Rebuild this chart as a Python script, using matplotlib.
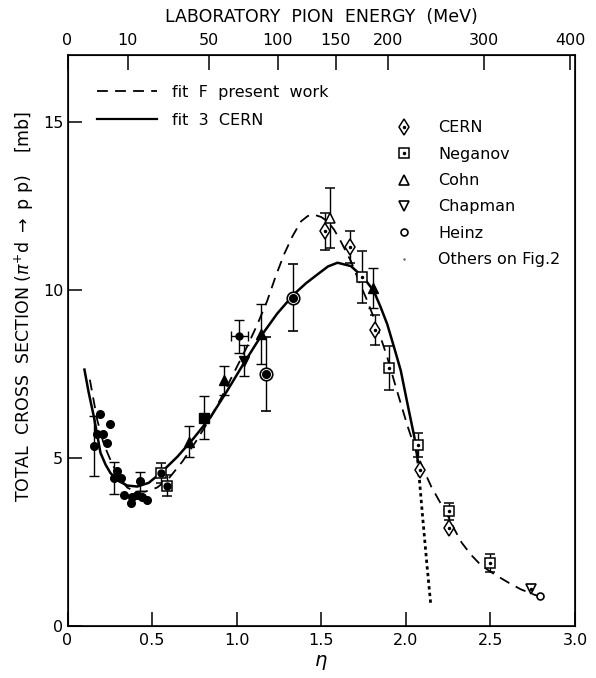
import numpy as np
import matplotlib
matplotlib.use("Agg")
import matplotlib.pyplot as plt
from matplotlib.lines import Line2D

# --- curves (eta, sigma in mb) ---
fit3_eta = [0.10, 0.125, 0.156, 0.195, 0.225, 0.254, 0.30, 0.353, 0.412, 0.48, 0.55,
            0.65, 0.746, 0.846, 0.945, 1.04, 1.14, 1.24, 1.34, 1.41, 1.477, 1.54,
            1.596, 1.675, 1.75, 1.81, 1.85, 1.89, 1.93, 1.97, 2.01, 2.05, 2.07]
fit3_sig = [7.63, 6.95, 6.22, 5.15, 4.80, 4.55, 4.32, 4.18, 4.15, 4.26, 4.55,
            5.04, 5.59, 6.22, 7.01, 7.80, 8.60, 9.30, 9.88, 10.20, 10.46, 10.70,
            10.81, 10.71, 10.37, 9.97, 9.50, 8.98, 8.30, 7.60, 6.60, 5.63, 4.94]
fit3_tail_eta = [2.07, 2.10, 2.125, 2.148]
fit3_tail_sig = [4.94, 3.20, 1.80, 0.60]

fitF_eta = [0.132, 0.176, 0.215, 0.254, 0.30, 0.353, 0.40, 0.46, 0.53, 0.60, 0.68,
            0.76, 0.84, 0.92, 1.00, 1.06, 1.12, 1.18, 1.23, 1.28, 1.33, 1.38, 1.42,
            1.457, 1.50, 1.537, 1.575, 1.615, 1.675, 1.73, 1.77, 1.81, 1.85, 1.89,
            1.93, 1.97, 2.01, 2.05, 2.10, 2.15, 2.20, 2.25, 2.29, 2.33, 2.385, 2.44,
            2.49, 2.54, 2.61, 2.68, 2.76, 2.84]
fitF_sig = [7.33, 6.12, 5.40, 4.94, 4.45, 4.12, 4.00, 4.00, 4.12, 4.40, 4.90,
            5.50, 6.15, 6.90, 7.70, 8.30, 8.95, 9.67, 10.40, 11.06, 11.60, 12.04, 12.20,
            12.24, 12.17, 12.04, 11.80, 11.45, 10.86, 10.17, 9.70, 9.18, 8.60, 8.00,
            7.30, 6.62, 5.95, 5.35, 4.70, 4.15, 3.70, 3.26, 2.85, 2.48, 2.12, 1.83,
            1.65, 1.49, 1.28, 1.09, 0.93, 0.80]

# --- data points ---
dots_eta = [0.19, 0.25, 0.176, 0.211, 0.235, 0.294, 0.314, 0.333, 0.373, 0.383, 0.412, 0.442, 0.467]
dots_sig = [6.32, 6.00, 5.70, 5.70, 5.45, 4.60, 4.40, 3.90, 3.66, 3.85, 3.90, 3.85, 3.74]
dots_err_eta = [0.156, 0.274, 0.428]
dots_err_sig = [5.35, 4.40, 4.30]
dots_err = [0.90, 0.47, 0.28]
dot_xbar_eta = [1.014]
dot_xbar_sig = [8.62]
dot_xbar_yerr = [0.50]
dot_xbar_xerr = [0.05]

ring_eta = [1.171, 1.33]
ring_sig = [7.50, 9.77]
ring_err = [1.10, 1.00]

ftri_eta = [0.718, 0.925, 1.142, 1.803]
ftri_sig = [5.48, 7.31, 8.69, 10.05]
ftri_err = [0.46, 0.44, 0.89, 0.59]
fsq_eta = [0.807]
fsq_sig = [6.20]
fsq_err = [0.65]
finv_eta = [1.043]
finv_sig = [7.90]
finv_err = [0.45]

cohn_eta = [1.552]
cohn_sig = [12.14]
cohn_err = [0.88]

cern_eta = [1.523, 1.67, 1.817, 2.085, 2.253]
cern_sig = [11.75, 11.27, 8.81, 4.65, 2.92]
cern_err = [0.55, 0.47, 0.45, 0.0, 0.0]

neg_eta = [0.55, 0.586, 1.74, 1.90, 2.069, 2.256, 2.50]
neg_sig = [4.55, 4.18, 10.38, 7.67, 5.38, 3.41, 1.88]
neg_err = [0.30, 0.30, 0.78, 0.66, 0.36, 0.26, 0.26]

chap_eta = [2.74]
chap_sig = [1.09]
heinz_eta = [2.795]
heinz_sig = [0.88]

energy_ticks = [0, 10, 50, 100, 150, 200, 300, 400]


def eta_from_T(T):
    # pion CM momentum in units of m_pi for pi+ d at lab kinetic energy T (MeV)
    mpi, md = 139.57, 1875.61
    T = np.asarray(T, dtype=float)
    s = (mpi + md) ** 2 + 2 * md * T
    p = np.sqrt((s - (mpi + md) ** 2) * (s - (md - mpi) ** 2)) / (2 * np.sqrt(s))
    return p / mpi


plt.rcParams['font.family'] = ['DejaVu Sans']
fig = plt.figure(figsize=(5.96, 6.78), dpi=100)
ax = fig.add_axes([0.1133, 0.0767, 0.8515, 0.8426])

ax.plot(fitF_eta, fitF_sig, color='k', lw=1.3, dashes=(6, 4))
ax.plot(fit3_eta, fit3_sig, color='k', lw=1.8)
ax.plot(fit3_tail_eta, fit3_tail_sig, color='k', lw=2.0, dashes=(1.2, 1.2))

eb = dict(ecolor='k', elinewidth=1.0, capsize=3.5, capthick=1.0, ls='none', zorder=3)

ax.plot(dots_eta, dots_sig, 'o', color='k', ms=5.5, zorder=4)
ax.errorbar(dots_err_eta, dots_err_sig, yerr=dots_err, fmt='o', color='k', ms=5.5, **eb)
ax.errorbar(dot_xbar_eta, dot_xbar_sig, yerr=dot_xbar_yerr, xerr=dot_xbar_xerr,
            fmt='o', color='k', ms=5, **eb)

ax.errorbar(ring_eta, ring_sig, yerr=ring_err, fmt='o', ms=9, mfc='white', mec='k', mew=1.2, **eb)
ax.plot(ring_eta, ring_sig, 'o', color='k', ms=5.5, zorder=5)

ax.errorbar(ftri_eta, ftri_sig, yerr=ftri_err, fmt='^', color='k', ms=7, **eb)
ax.errorbar(fsq_eta, fsq_sig, yerr=fsq_err, fmt='s', color='k', ms=6.5, **eb)
ax.errorbar(finv_eta, finv_sig, yerr=finv_err, fmt='v', color='k', ms=7, **eb)

ax.errorbar(cohn_eta, cohn_sig, yerr=cohn_err, fmt='^', ms=7, mfc='white', mec='k', mew=1.1, **eb)

ax.errorbar(cern_eta, cern_sig, yerr=cern_err, fmt='d', ms=8.5, mfc='white', mec='k', mew=1.1, **eb)
ax.plot(cern_eta, cern_sig, '.', color='k', ms=3, zorder=5)

ax.errorbar(neg_eta, neg_sig, yerr=neg_err, fmt='s', ms=7, mfc='white', mec='k', mew=1.1, **eb)
ax.plot(neg_eta[2:], neg_sig[2:], '.', color='k', ms=3, zorder=5)
ax.plot(neg_eta[:2], neg_sig[:2], 'o', color='k', ms=5, zorder=5)

ax.plot(chap_eta, chap_sig, 'v', ms=7, mfc='white', mec='k', mew=1.2, zorder=4)
ax.plot(chap_eta, chap_sig, '.', color='k', ms=3, zorder=5)
ax.plot(heinz_eta, heinz_sig, 'o', ms=5, mfc='white', mec='k', mew=1.2, zorder=4)

ax.set_xlim(0, 3.0)
ax.set_ylim(0, 17)
ax.set_xticks([0, 0.5, 1.0, 1.5, 2.0, 2.5, 3.0])
ax.set_xticklabels(['0', '0.5', '1.0', '1.5', '2.0', '2.5', '3.0'])
ax.set_yticks([0, 5, 10, 15])
ax.tick_params(axis='both', direction='in', length=10, width=1.1, labelsize=11.5, pad=5)
ax.tick_params(axis='y', pad=3)
ax.set_xlabel(r'$\eta$', fontsize=14, labelpad=4)
ax.set_ylabel(r'TOTAL  CROSS  SECTION ($\pi^{+}$d $\rightarrow$ p p)    [mb]', fontsize=12.5)
ax.yaxis.set_label_coords(-0.062, 0.56)
for sp in ax.spines.values():
    sp.set_linewidth(1.2)

top = ax.twiny()
top.set_xlim(ax.get_xlim())
top.set_xticks(eta_from_T(energy_ticks))
top.set_xticklabels([str(t) for t in energy_ticks])
top.tick_params(axis='x', direction='in', length=11, width=1.1, labelsize=11.5, pad=5)
top.set_xlabel('LABORATORY  PION  ENERGY  (MeV)', fontsize=12.5, labelpad=8)

line_handles = [Line2D([], [], color='k', lw=1.3, dashes=(6, 4)),
                Line2D([], [], color='k', lw=1.6)]
leg1 = ax.legend(line_handles, ['fit  F  present  work', 'fit  3  CERN'],
                 loc='upper left', bbox_to_anchor=(0.058, 0.947), frameon=False,
                 fontsize=11.5, handlelength=3.75, handletextpad=0.94, labelspacing=0.8,
                 borderpad=0, borderaxespad=0)
ax.add_artist(leg1)

dia = Line2D([], [], marker='d', ls='none', ms=8.5, mfc='white', mec='k', mew=1.1)
dia_dot = Line2D([], [], marker='.', ls='none', ms=3, color='k')
sq = Line2D([], [], marker='s', ls='none', ms=6.5, mfc='white', mec='k', mew=1.1)
tri = Line2D([], [], marker='^', ls='none', ms=7, mfc='white', mec='k', mew=1.2)
inv = Line2D([], [], marker='v', ls='none', ms=7, mfc='white', mec='k', mew=1.2)
circ = Line2D([], [], marker='o', ls='none', ms=5, mfc='white', mec='k', mew=1.2)
tiny = Line2D([], [], marker='.', ls='none', ms=1.5, color='0.4')
leg2 = ax.legend([(dia, dia_dot), (sq, dia_dot), tri, inv, circ, tiny],
                 ['CERN', 'Neganov', 'Cohn', 'Chapman', 'Heinz', 'Others on Fig.2'],
                 loc='upper left', bbox_to_anchor=(0.649, 0.885), frameon=False,
                 fontsize=11.5, handlelength=0.9, handletextpad=1.7, labelspacing=0.71,
                 borderpad=0, borderaxespad=0)

fig.savefig('out.png', dpi=100)
